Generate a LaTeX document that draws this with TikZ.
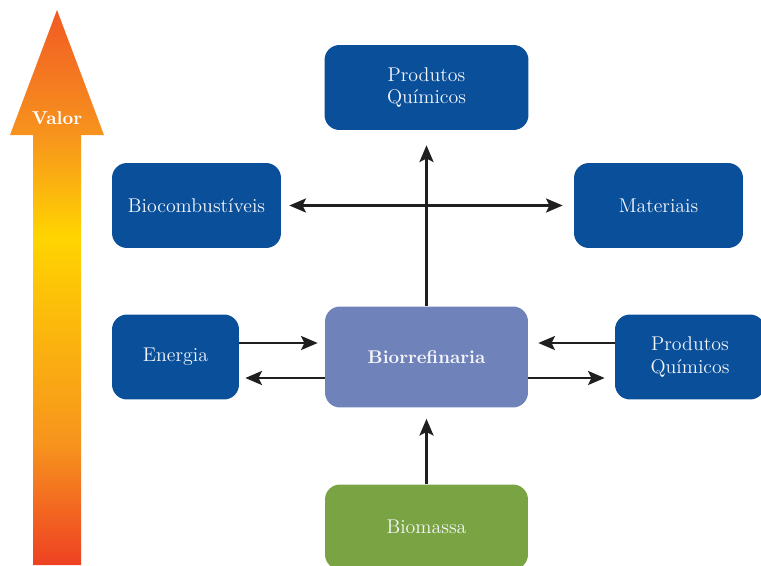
\documentclass[tikz,border=0pt]{standalone}
\usepackage{amsmath}
\usepackage{tikz}
\usetikzlibrary{arrows.meta}
\definecolor{azul}{HTML}{0A4F9A}
\definecolor{lilas}{HTML}{6F82BA}
\definecolor{verde}{HTML}{7AA443}
\definecolor{texto}{HTML}{F4F6FA}
\definecolor{vtopo}{HTML}{F15A24}
\definecolor{vlaranja}{HTML}{F7941D}
\definecolor{vamarelo}{HTML}{FFD400}
\definecolor{vbase}{HTML}{EE4123}
\pgfdeclareverticalshading{valor}{100bp}{color(0bp)=(vbase); color(25bp)=(vbase); color(36bp)=(vlaranja); color(54.6bp)=(vamarelo); color(63.7bp)=(vlaranja); color(75bp)=(vtopo); color(100bp)=(vtopo)}

\begin{document}
\begin{tikzpicture}[x=0.02cm, y=-0.02cm,
  caixa/.style={rectangle, rounded corners=0.3cm, fill=azul, text=texto, align=center,
    font=\fontsize{11.3}{12.8}\selectfont, minimum height=1.7cm, inner sep=0pt},
  >={Stealth[length=9.5pt,width=8pt,inset=2pt]},
  seta/.style={->, line width=1.3pt, black!88}]
\clip (0,0) rectangle (761,565);
\shade[shading=valor] (57,10) -- (104,135) -- (81,135) -- (81,565) -- (33,565) -- (33,135) -- (10,135) -- cycle;
\node[text=white, font=\fontsize{10.6}{12}\selectfont\bfseries] (valor) at (57,118) {Valor};

\node[caixa, minimum width=4.08cm] (quim1) at (426.5,87.5) {Produtos\\Químicos};
\node[caixa, minimum width=3.38cm] (bioc) at (196.5,205.5) {Biocombustíveis};
\node[caixa, minimum width=3.38cm] (mat) at (658.5,205.5) {Materiais};
\node[caixa, minimum width=2.54cm] (ener) at (175.5,357) {Energia};
\node[caixa, minimum width=4.06cm, minimum height=2.02cm, fill=lilas, font=\fontsize{10.5}{12.5}\selectfont\bfseries] (bior) at (426.5,357) {Biorrefinaria};
\node[caixa, minimum width=3cm] (quim2) at (690,357) {Produtos\\Químicos};
\node[caixa, minimum width=4.06cm, fill=verde] (biom) at (426.5,527) {Biomassa};

\path[seta]
  (bior.north) edge[shorten >=0.3cm] (quim1.south)
  (bioc.east) edge[<->, shorten <=0.16cm, shorten >=0.22cm] (mat.west)
  ([yshift=0.28cm]ener.east) edge[shorten >=0.14cm] ([yshift=0.28cm]bior.west)
  ([yshift=-0.42cm]bior.west) edge[shorten >=0.12cm] ([yshift=-0.42cm]ener.east)
  ([yshift=0.28cm]quim2.west) edge[shorten >=0.2cm] ([yshift=0.28cm]bior.east)
  ([yshift=-0.42cm]bior.east) edge[shorten >=0.2cm] ([yshift=-0.42cm]quim2.west)
  (biom.north) edge[shorten >=0.22cm] (bior.south);
\end{tikzpicture}
\end{document}
